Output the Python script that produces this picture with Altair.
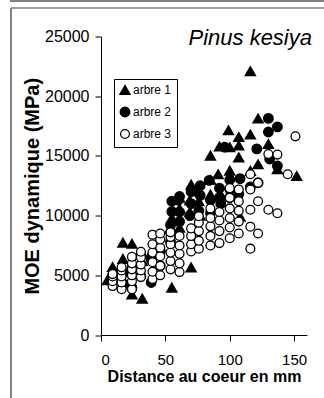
import altair as alt
import pandas as pd

series_names = ["arbre 1", "arbre 2", "arbre 3"]
x_ticks = [0, 50, 100, 150]
y_ticks = [0, 5000, 10000, 15000, 20000, 25000]

# arbre 1 (triangles)
dist1 = [5, 9, 17, 17, 24, 24, 32, 32, 39, 46,
         55, 55, 61, 61, 61, 69, 69, 70, 70, 76, 76, 77,
         85, 85, 85, 91, 92, 93,
         99, 100, 100,
         107, 107, 107, 108,
         116, 116, 116,
         122, 122,
         130, 137, 152]
moe1 = [4600, 5700, 7740, 6380, 7650, 3400, 3050, 6200, 6900, 7400,
        3970, 9800, 10600, 11500, 9000, 11300, 10300, 12600, 5670, 12050, 11200, 10000,
        15030, 11760, 13000, 13460, 15790, 11760,
        17150, 15730, 13770,
        16580, 15870, 14880, 9920,
        22100, 16800, 13750,
        18140, 14310,
        16000, 13890, 13320]

# arbre 2 (filled circles)
dist2 = [9, 9, 17, 17, 24, 24, 31, 31, 39, 39,
         46, 46, 54, 54, 54, 55, 55, 60, 61, 61, 61,
         69, 70, 70, 76, 77, 77, 84, 85, 85,
         92, 92, 93, 96, 100, 100, 100,
         107, 108, 116, 121, 122,
         130, 130, 131, 137, 137]
moe2 = [4500, 5000, 4300, 5200, 3970, 5600, 4960, 6660, 4400, 6300,
        5800, 7000, 7800, 8600, 9200, 10340, 11200, 11300, 10300, 9500, 11600,
        10000, 11000, 12000, 10400, 11700, 12500, 12950, 11300, 10200,
        12300, 11500, 11000, 15730, 12200, 13000, 11500,
        11800, 13100, 12400, 15590, 12750,
        18140, 17000, 14740, 17430, 14170]

# arbre 3 (open circles)
dist3 = [9, 9, 9, 9,
         16, 16, 16, 16, 16,
         24, 24, 24, 24, 24, 24,
         31, 31, 31, 31, 31,
         40, 40, 40, 40, 40, 40,
         46, 46, 46, 46, 46, 46,
         54, 54, 54, 54, 54, 54,
         61, 61, 61, 61, 61,
         70, 70, 70, 70,
         76, 76, 76, 76, 76,
         85, 85, 85, 85, 85,
         92, 92, 92, 92,
         100, 100, 100, 100, 100, 100,
         107, 107, 107, 107, 107,
         116, 116, 116, 116, 116,
         122, 122, 122,
         130, 130, 137, 137, 145, 151]
moe3 = [4100, 4500, 4900, 5100,
        3830, 4400, 4900, 5400, 5670,
        3830, 4500, 5000, 5500, 6000, 6550,
        4850, 5400, 5900, 6500, 6970,
        4700, 5300, 6100, 6900, 7600, 8400,
        5000, 5800, 6600, 7300, 8000, 8500,
        5500, 6200, 6900, 7600, 8200, 8600,
        5270, 6000, 6800, 7500, 8300,
        7000, 7600, 8300, 8930,
        7230, 7900, 8700, 9400, 9950,
        7500, 8300, 9100, 9800, 10600,
        7700, 8700, 9600, 10300,
        8100, 9000, 9800, 10600, 11500, 12300,
        8500, 9500, 10400, 11200, 12190,
        7230, 9070, 10490, 12190, 13460,
        8500, 11200, 12750,
        10490, 15160, 10200, 15110, 13460, 16640]

rows = []
for name, ds, ms in zip(series_names, [dist1, dist2, dist3], [moe1, moe2, moe3]):
    for d, m in zip(ds, ms):
        rows.append({"serie": name, "distance": d, "moe": m})
df = pd.DataFrame(rows)

W, H = 206, 298.5
FONT = "Liberation Sans"

legend = alt.Legend(
    title=None, orient="none", legendX=13, legendY=42.5,
    strokeColor="black", padding=5, labelFont=FONT, labelFontSize=12,
    labelColor="black", labelOffset=2, rowPadding=6,
    symbolStrokeWidth=1.3, fillColor="white",
)

points = alt.Chart(df).mark_point(
    filled=True, strokeWidth=1.3, opacity=1
).encode(
    x=alt.X("distance:Q",
            scale=alt.Scale(domain=[0, 160], nice=False, zero=True),
            axis=alt.Axis(values=x_ticks, title="Distance au coeur en mm",
                          labelPadding=11, labelFontSize=15,
                          titlePadding=1, titleFontSize=16)),
    y=alt.Y("moe:Q",
            scale=alt.Scale(domain=[0, 25000], nice=False),
            axis=alt.Axis(values=y_ticks, format="d", title="MOE dynamique (MPa)",
                          labelPadding=6, labelFontSize=16,
                          titlePadding=2, titleFontSize=20)),
    shape=alt.Shape("serie:N",
                    scale=alt.Scale(domain=series_names,
                                    range=["triangle-up", "circle", "circle"]),
                    legend=legend),
    fill=alt.Fill("serie:N",
                  scale=alt.Scale(domain=series_names,
                                  range=["black", "black", "white"]),
                  legend=legend),
    stroke=alt.Stroke("serie:N",
                      scale=alt.Scale(domain=series_names,
                                      range=["black", "black", "black"]),
                      legend=legend),
    size=alt.Size("serie:N",
                  scale=alt.Scale(domain=series_names, range=[105, 78, 78]),
                  legend=legend),
)

one = pd.DataFrame({"k": [0]})
FRAME = "#808080"
frame_top1 = alt.Chart(one).mark_rule(color=FRAME, strokeWidth=2).encode(
    x=alt.value(-90), x2=alt.value(224), y=alt.value(-35.5))
frame_top1_left = alt.Chart(one).mark_rule(color=FRAME, strokeWidth=2).encode(
    x=alt.value(-90), y=alt.value(-36.5), y2=alt.value(-34.5))
frame_top2 = alt.Chart(one).mark_rule(color=FRAME, strokeWidth=1.5).encode(
    x=alt.value(-90), x2=alt.value(224), y=alt.value(-28.5))
frame_left = alt.Chart(one).mark_rule(color=FRAME, strokeWidth=2).encode(
    x=alt.value(-90), y=alt.value(-28.5), y2=alt.value(362))

species = alt.Chart(pd.DataFrame({"label": ["Pinus kesiya"]})).mark_text(
    font=FONT, fontSize=22, fontStyle="italic", align="right",
    baseline="alphabetic", color="black"
).encode(text="label:N", x=alt.value(211), y=alt.value(8.5))

chart = alt.layer(
    frame_top1, frame_top1_left, frame_top2, frame_left, points, species
).properties(
    width=W, height=H,
    padding={"left": 101, "top": 36.5, "right": 17, "bottom": 63},
    autosize=alt.AutoSizeParams(type="none"),
).configure_view(stroke=None).configure_axis(
    grid=False, domainColor="black", domainWidth=1, tickColor="black",
    tickSize=6, tickWidth=1, labelFont=FONT,
    labelColor="black", titleFont=FONT, titleFontWeight="bold",
    titleColor="black",
)

chart.save("out.html", embed_options={"renderer": "svg", "actions": False})
